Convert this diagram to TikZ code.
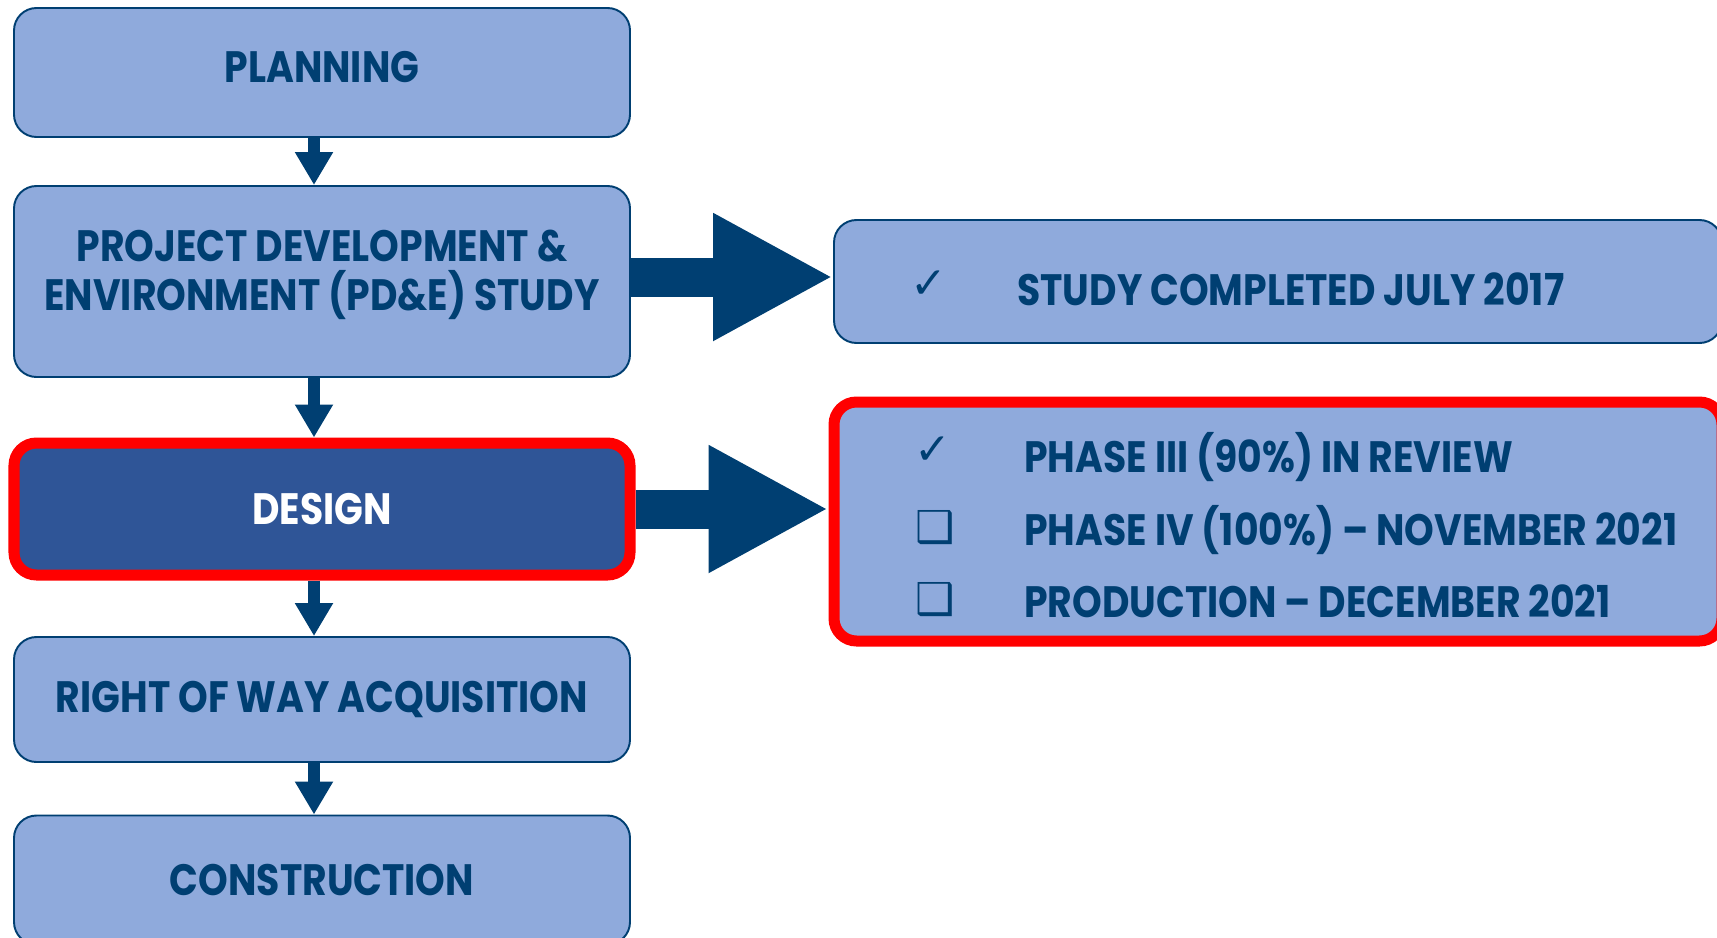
\documentclass[tikz,border=0pt]{standalone}
\usepackage{fontspec}
\setmainfont{Poppins}[FakeStretch=0.86]
\newfontfamily\symfont{DejaVu Sans}
\usetikzlibrary{arrows.meta, positioning}
\definecolor{boxBlue}{HTML}{8FAADC}
\definecolor{mainNavy}{HTML}{003F72}
\definecolor{designBlue}{HTML}{2F5597}
\definecolor{alertRed}{HTML}{FF0000}

\begin{document}
\begin{tikzpicture}[
    stage/.style={draw=mainNavy, line width=1.1pt, fill=boxBlue, rounded corners=0.45cm,
        minimum width=12.32cm, text=mainNavy, align=center,
        font=\bfseries\fontsize{25}{28}\selectfont},
    current/.style={draw=alertRed, line width=0.22cm},
    itemText/.style={anchor=west, inner sep=0pt, text=mainNavy, text height=0.62cm,
        text depth=0pt, font=\bfseries\fontsize{25}{28}\selectfont},
    tickMark/.style={inner sep=0pt, text=mainNavy, font=\symfont\fontsize{25}{25}\selectfont},
    downArrow/.style={draw=mainNavy, line width=0.24cm,
        -{Triangle[width=0.72cm, length=0.66cm]}},
    bigArrow/.style={draw=mainNavy, line width=0.78cm,
        -{Triangle[width=2.38cm, length=2.4cm]}}
]
    \useasboundingbox (0,0) rectangle (34.34,-18.76);
    \clip (0,0) rectangle (34.34,-18.76);

    % Stages
    \node[stage, minimum height=2.58cm, text depth=0.24cm] (planning) at (6.44,-1.45) {PLANNING};
    \node[stage, minimum height=3.82cm, text depth=0.44cm] (pde) at (6.44,-5.63)
        {PROJECT DEVELOPMENT \&\\ENVIRONMENT (PD\&E) STUDY};
    \node[stage, current, fill=designBlue, text=white, minimum height=2.64cm] (design)
        at (6.44,-10.18) {DESIGN};
    \node[stage, minimum height=2.5cm] (row) at (6.44,-13.99) {RIGHT OF WAY ACQUISITION};
    \node[stage, minimum height=2.58cm] (construction) at (6.44,-17.6) {CONSTRUCTION};

    % Status boxes
    \node[stage, minimum width=17.76cm, minimum height=2.46cm] (study) at (25.56,-5.63) {};
    \node[stage, current, minimum width=17.76cm, minimum height=4.78cm] (phase)
        at (25.56,-10.43) {};

    \node[tickMark] (studyTick) at (18.58,-5.70) {✓};
    \node[itemText] (studyText) at (20.34,-5.80) {STUDY COMPLETED JULY 2017};

    \node[tickMark] (reviewTick) at (18.66,-9.02) {✓};
    \node[itemText] (reviewText) at (20.48,-9.14) {PHASE III (90\%) IN REVIEW};
    \node[tickMark] (novBox) at (18.70,-10.56) {❑};
    \node[itemText] (novText) at (20.48,-10.60) {PHASE IV (100\%) – NOVEMBER 2021};
    \node[tickMark] (decBox) at (18.70,-12.00) {❑};
    \node[itemText] (decText) at (20.48,-12.04) {PRODUCTION – DECEMBER 2021};

    % Arrows
    \draw[downArrow] ([xshift=-0.16cm]planning.south) -- ([xshift=-0.16cm]pde.north);
    \draw[downArrow] ([xshift=-0.16cm]pde.south) -- ([xshift=-0.16cm]design.north);
    \draw[downArrow] ([xshift=-0.16cm]design.south) -- ([xshift=-0.16cm]row.north);
    \draw[downArrow] ([xshift=-0.16cm]row.south) -- ([xshift=-0.16cm]construction.north);
    \draw[bigArrow] ([yshift=0.09cm]pde.east) -- ([yshift=0.09cm]study.west);
    \draw[bigArrow] (design.east) -- (design.east -| phase.west);
\end{tikzpicture}
\end{document}
